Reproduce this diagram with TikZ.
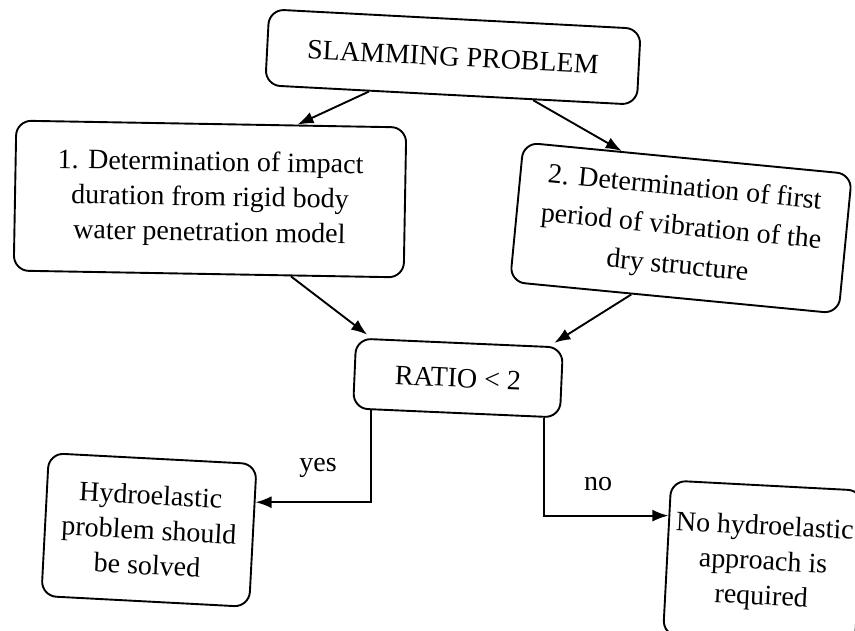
\documentclass[tikz,border=0pt]{standalone}
\usepackage{fontspec}
\setmainfont{Liberation Serif}
\usetikzlibrary{arrows.meta,calc}

\tikzset{
  box/.style={draw, line width=1.9pt, rounded corners=15pt, align=center,
    inner sep=0pt, font=\fontsize{28}{35}\selectfont},
  flow/.style={line width=1.9pt, -{Latex[length=16pt,width=12pt]}},
  lbl/.style={font=\fontsize{28}{35}\selectfont, inner sep=0pt}
}

\begin{document}
\begin{tikzpicture}[x=1pt,y=-1pt]
  \useasboundingbox (0,0) rectangle (855,630);

  % boxes
  \node[box, minimum width=372pt, minimum height=76pt, rotate=-3]
    (top) at (453,57) {SLAMMING PROBLEM};
  \node[box, minimum width=390pt, minimum height=150pt, rotate=-1]
    (rigid) at (210,199) {1. Determination of impact\\duration from rigid body\\water penetration model};
  \node[box, minimum width=330pt, minimum height=140pt, rotate=-5.5,
        font=\fontsize{28}{39}\selectfont]
    (dry) at (681,228) {2. Determination of first\\period of vibration of the\\dry structure};
  \node[box, minimum width=207pt, minimum height=70pt, rotate=-2.5]
    (ratio) at (458,378) {RATIO < 2};
  \node[box, minimum width=208pt, minimum height=143pt, rotate=-3]
    (hydro) at (149,530) {Hydroelastic\\problem should\\be solved};
  \node[box, minimum width=192pt, minimum height=155pt, rotate=-3]
    (nohydro) at (763,563) {No hydroelastic\\approach is\\required};

  % branch labels
  \node[lbl] (yes) at (318,468) {yes};
  \node[lbl] (no) at (598,484) {no};

  % connectors
  \draw[flow] ($(top.south west)!0.28!(top.south east)$)
           -- ($(rigid.north west)!0.72!(rigid.north east)$);
  \draw[flow] ($(top.south west)!0.72!(top.south east)$)
           -- ($(dry.north west)!0.30!(dry.north east)$);
  \draw[flow, shorten >=6pt] ($(rigid.south west)!0.71!(rigid.south east)$)
           -- ($(ratio.north west)!0.08!(ratio.north east)$);
  \draw[flow, shorten >=6pt] ($(dry.south west)!0.37!(dry.south east)$)
           -- ($(ratio.north west)!0.93!(ratio.north east)$);
  \draw[flow] ($(ratio.south west)!0.09!(ratio.south east)$)
           |- ($(hydro.north east)!0.27!(hydro.south east)$);
  \draw[flow] ($(ratio.south west)!0.92!(ratio.south east)$)
           |- ($(nohydro.north west)!0.23!(nohydro.south west)$);
\end{tikzpicture}
\end{document}
